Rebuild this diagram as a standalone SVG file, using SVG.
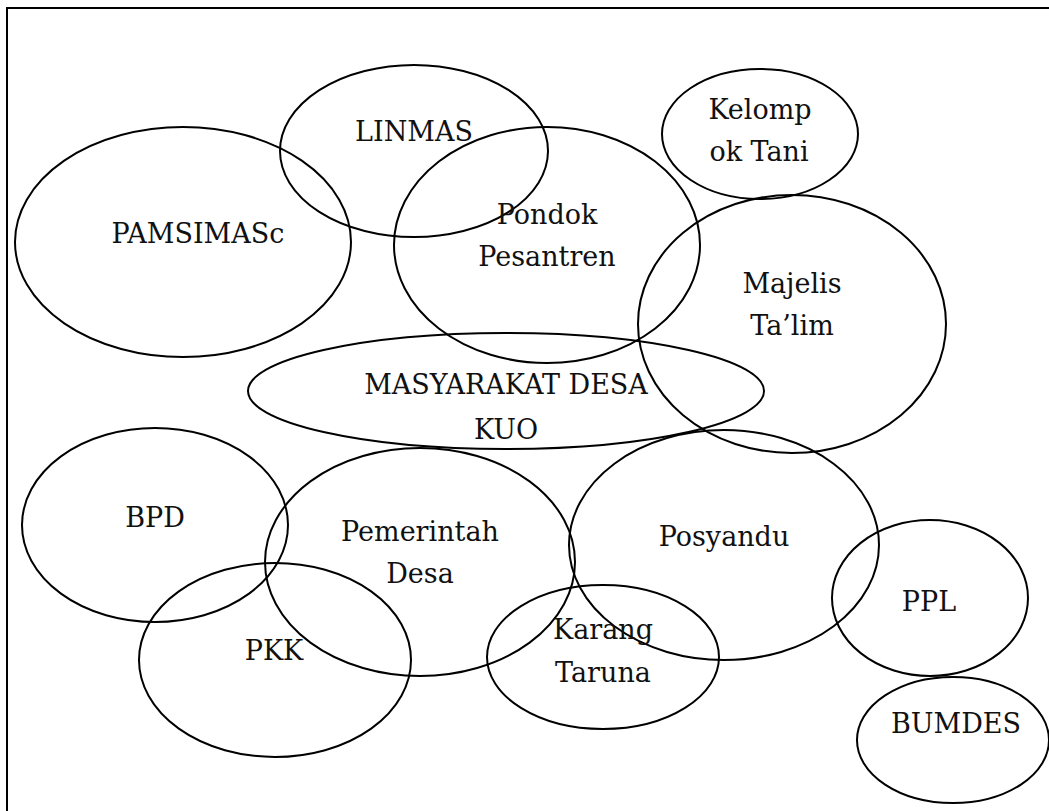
<svg xmlns="http://www.w3.org/2000/svg" width="1049" height="811" viewBox="0 0 1049 811">
  <style>
    .frame { fill: none; stroke: #000; stroke-width: 2; }
    .ring { fill: none; stroke: #000; stroke-width: 2; }
    .lbl { font-family: "DejaVu Serif", "Liberation Serif", serif; font-size: 27px; fill: #111; text-anchor: middle; }
  </style>
  <rect width="1049" height="811" fill="#fff"/>
  <!-- page frame; right and bottom sides run past the canvas -->
  <rect class="frame" x="7" y="8" width="1050" height="820"/>

  <g id="linmas">
    <ellipse class="ring" cx="414" cy="151" rx="134" ry="86"/>
    <text class="lbl" x="414" y="141">LINMAS</text>
  </g>
  <g id="kelompok-tani">
    <ellipse class="ring" cx="760" cy="134" rx="98" ry="65"/>
    <text class="lbl" x="760" y="119">Kelomp</text>
    <text class="lbl" x="759" y="161">ok Tani</text>
  </g>
  <g id="pamsimas">
    <ellipse class="ring" cx="183" cy="242" rx="168" ry="115"/>
    <text class="lbl" x="198" y="243">PAMSIMASc</text>
  </g>
  <g id="pondok-pesantren">
    <ellipse class="ring" cx="547" cy="245" rx="153" ry="118"/>
    <text class="lbl" x="547" y="224">Pondok</text>
    <text class="lbl" x="547" y="266">Pesantren</text>
  </g>
  <g id="majelis-talim">
    <ellipse class="ring" cx="792" cy="324" rx="154" ry="129"/>
    <text class="lbl" x="792" y="293">Majelis</text>
    <text class="lbl" x="792" y="335">Ta’lim</text>
  </g>
  <g id="masyarakat">
    <ellipse class="ring" cx="506" cy="391" rx="258" ry="58"/>
    <text class="lbl" x="506" y="394">MASYARAKAT DESA</text>
    <text class="lbl" x="506" y="439">KUO</text>
  </g>
  <g id="bpd">
    <ellipse class="ring" cx="155" cy="525" rx="133" ry="97"/>
    <text class="lbl" x="155" y="527">BPD</text>
  </g>
  <g id="pemerintah-desa">
    <ellipse class="ring" cx="420" cy="562" rx="155" ry="114"/>
    <text class="lbl" x="420" y="541">Pemerintah</text>
    <text class="lbl" x="420" y="583">Desa</text>
  </g>
  <g id="posyandu">
    <ellipse class="ring" cx="724" cy="545" rx="155" ry="115"/>
    <text class="lbl" x="724" y="546">Posyandu</text>
  </g>
  <g id="ppl">
    <ellipse class="ring" cx="930" cy="598" rx="98" ry="78"/>
    <text class="lbl" x="929" y="611">PPL</text>
  </g>
  <g id="pkk">
    <ellipse class="ring" cx="275" cy="660" rx="136" ry="97"/>
    <text class="lbl" x="274" y="660">PKK</text>
  </g>
  <g id="karang-taruna">
    <ellipse class="ring" cx="603" cy="657" rx="116" ry="72"/>
    <text class="lbl" x="603" y="639">Karang</text>
    <text class="lbl" x="603" y="682">Taruna</text>
  </g>
  <g id="bumdes">
    <ellipse class="ring" cx="953" cy="740" rx="96" ry="63"/>
    <text class="lbl" x="956" y="733">BUMDES</text>
  </g>

  <g id="connectors"></g>
</svg>
